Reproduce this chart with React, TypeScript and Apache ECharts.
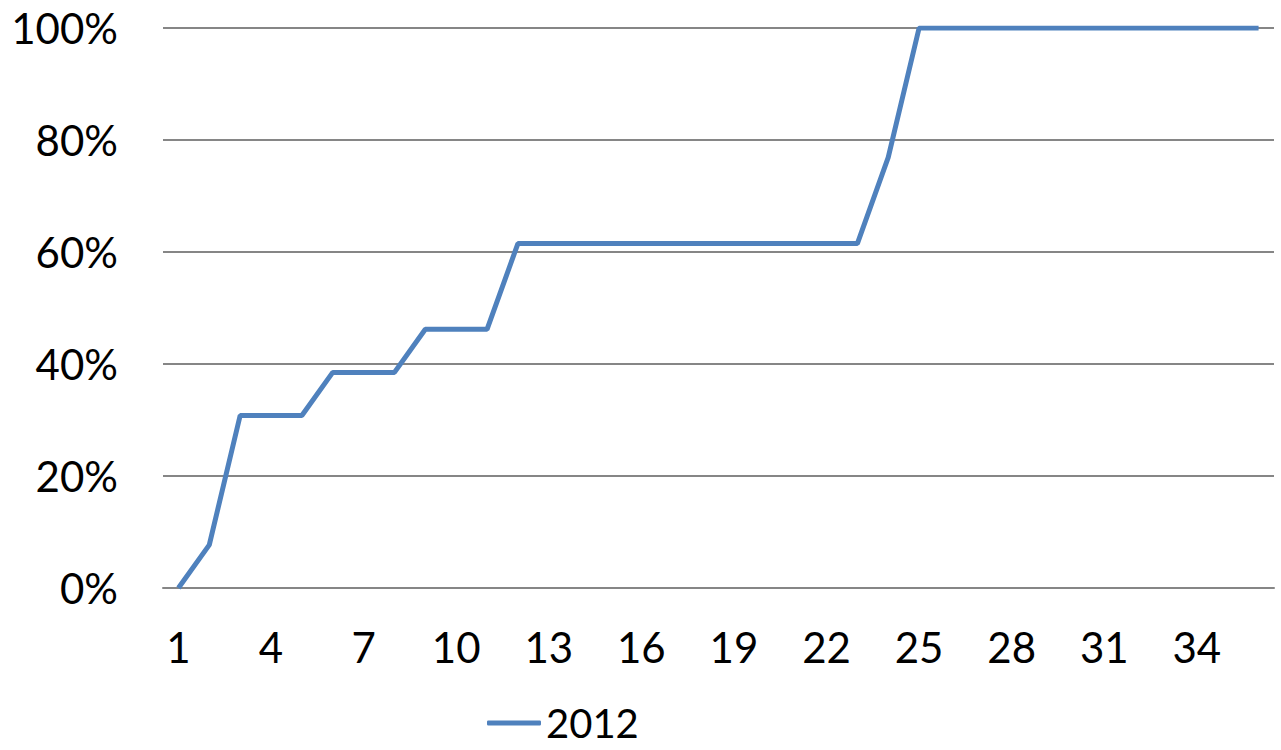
import React, { useEffect, useRef } from "react";
import * as echarts from "echarts";

const categories: string[] = Array.from({ length: 36 }, (_, i) => String(i + 1));
const seriesName = "2012";
const values2012: number[] = [
  0, 7.7, 30.8, 30.8, 30.8, 38.5, 38.5, 38.5, 46.2, 46.2, 46.2,
  61.5, 61.5, 61.5, 61.5, 61.5, 61.5, 61.5, 61.5, 61.5, 61.5, 61.5, 61.5,
  76.9,
  100, 100, 100, 100, 100, 100, 100, 100, 100, 100, 100, 100,
];
const yTicks = { min: 0, max: 100, interval: 20 };

const FONT = "Lato, 'Open Sans', sans-serif";

export default function App() {
  const ref = useRef<HTMLDivElement>(null);
  useEffect(() => {
    if (!ref.current) return;
    const chart = echarts.init(ref.current, undefined, { renderer: "svg" });
    chart.setOption({
      animation: false,
      backgroundColor: "#ffffff",
      grid: { left: 163, right: 7, top: 28, bottom: 162, containLabel: false },
      legend: {
        data: [{ name: seriesName, icon: "roundRect" }],
        left: 487,
        top: 703,
        padding: 0,
        itemWidth: 54,
        itemHeight: 5,
        textStyle: { fontFamily: FONT, fontSize: 40, lineHeight: 38, color: "#000" },
      },
      xAxis: {
        type: "category",
        data: categories,
        boundaryGap: true,
        axisTick: { show: false },
        axisLine: { show: true, lineStyle: { color: "#868686", width: 2 } },
        axisLabel: {
          interval: 2,
          margin: 38,
          fontFamily: FONT,
          fontSize: 42,
          color: "#000",
        },
        splitLine: { show: false },
      },
      yAxis: {
        type: "value",
        min: yTicks.min,
        max: yTicks.max,
        interval: yTicks.interval,
        axisLine: { show: false },
        axisTick: { show: false },
        axisLabel: {
          formatter: "{value}%",
          margin: 45,
          fontFamily: FONT,
          fontSize: 42,
          color: "#000",
        },
        splitLine: { show: true, lineStyle: { color: "#868686", width: 2 } },
      },
      series: [
        {
          name: seriesName,
          type: "line",
          data: values2012,
          symbol: "none",
          lineStyle: { color: "#4F81BD", width: 5 },
          itemStyle: { color: "#4F81BD" },
        },
      ],
    });
    return () => chart.dispose();
  }, []);
  return (
    <div
      ref={ref}
      style={{ position: "absolute", left: 0, top: 0, width: 1281, height: 750 }}
    />
  );
}
